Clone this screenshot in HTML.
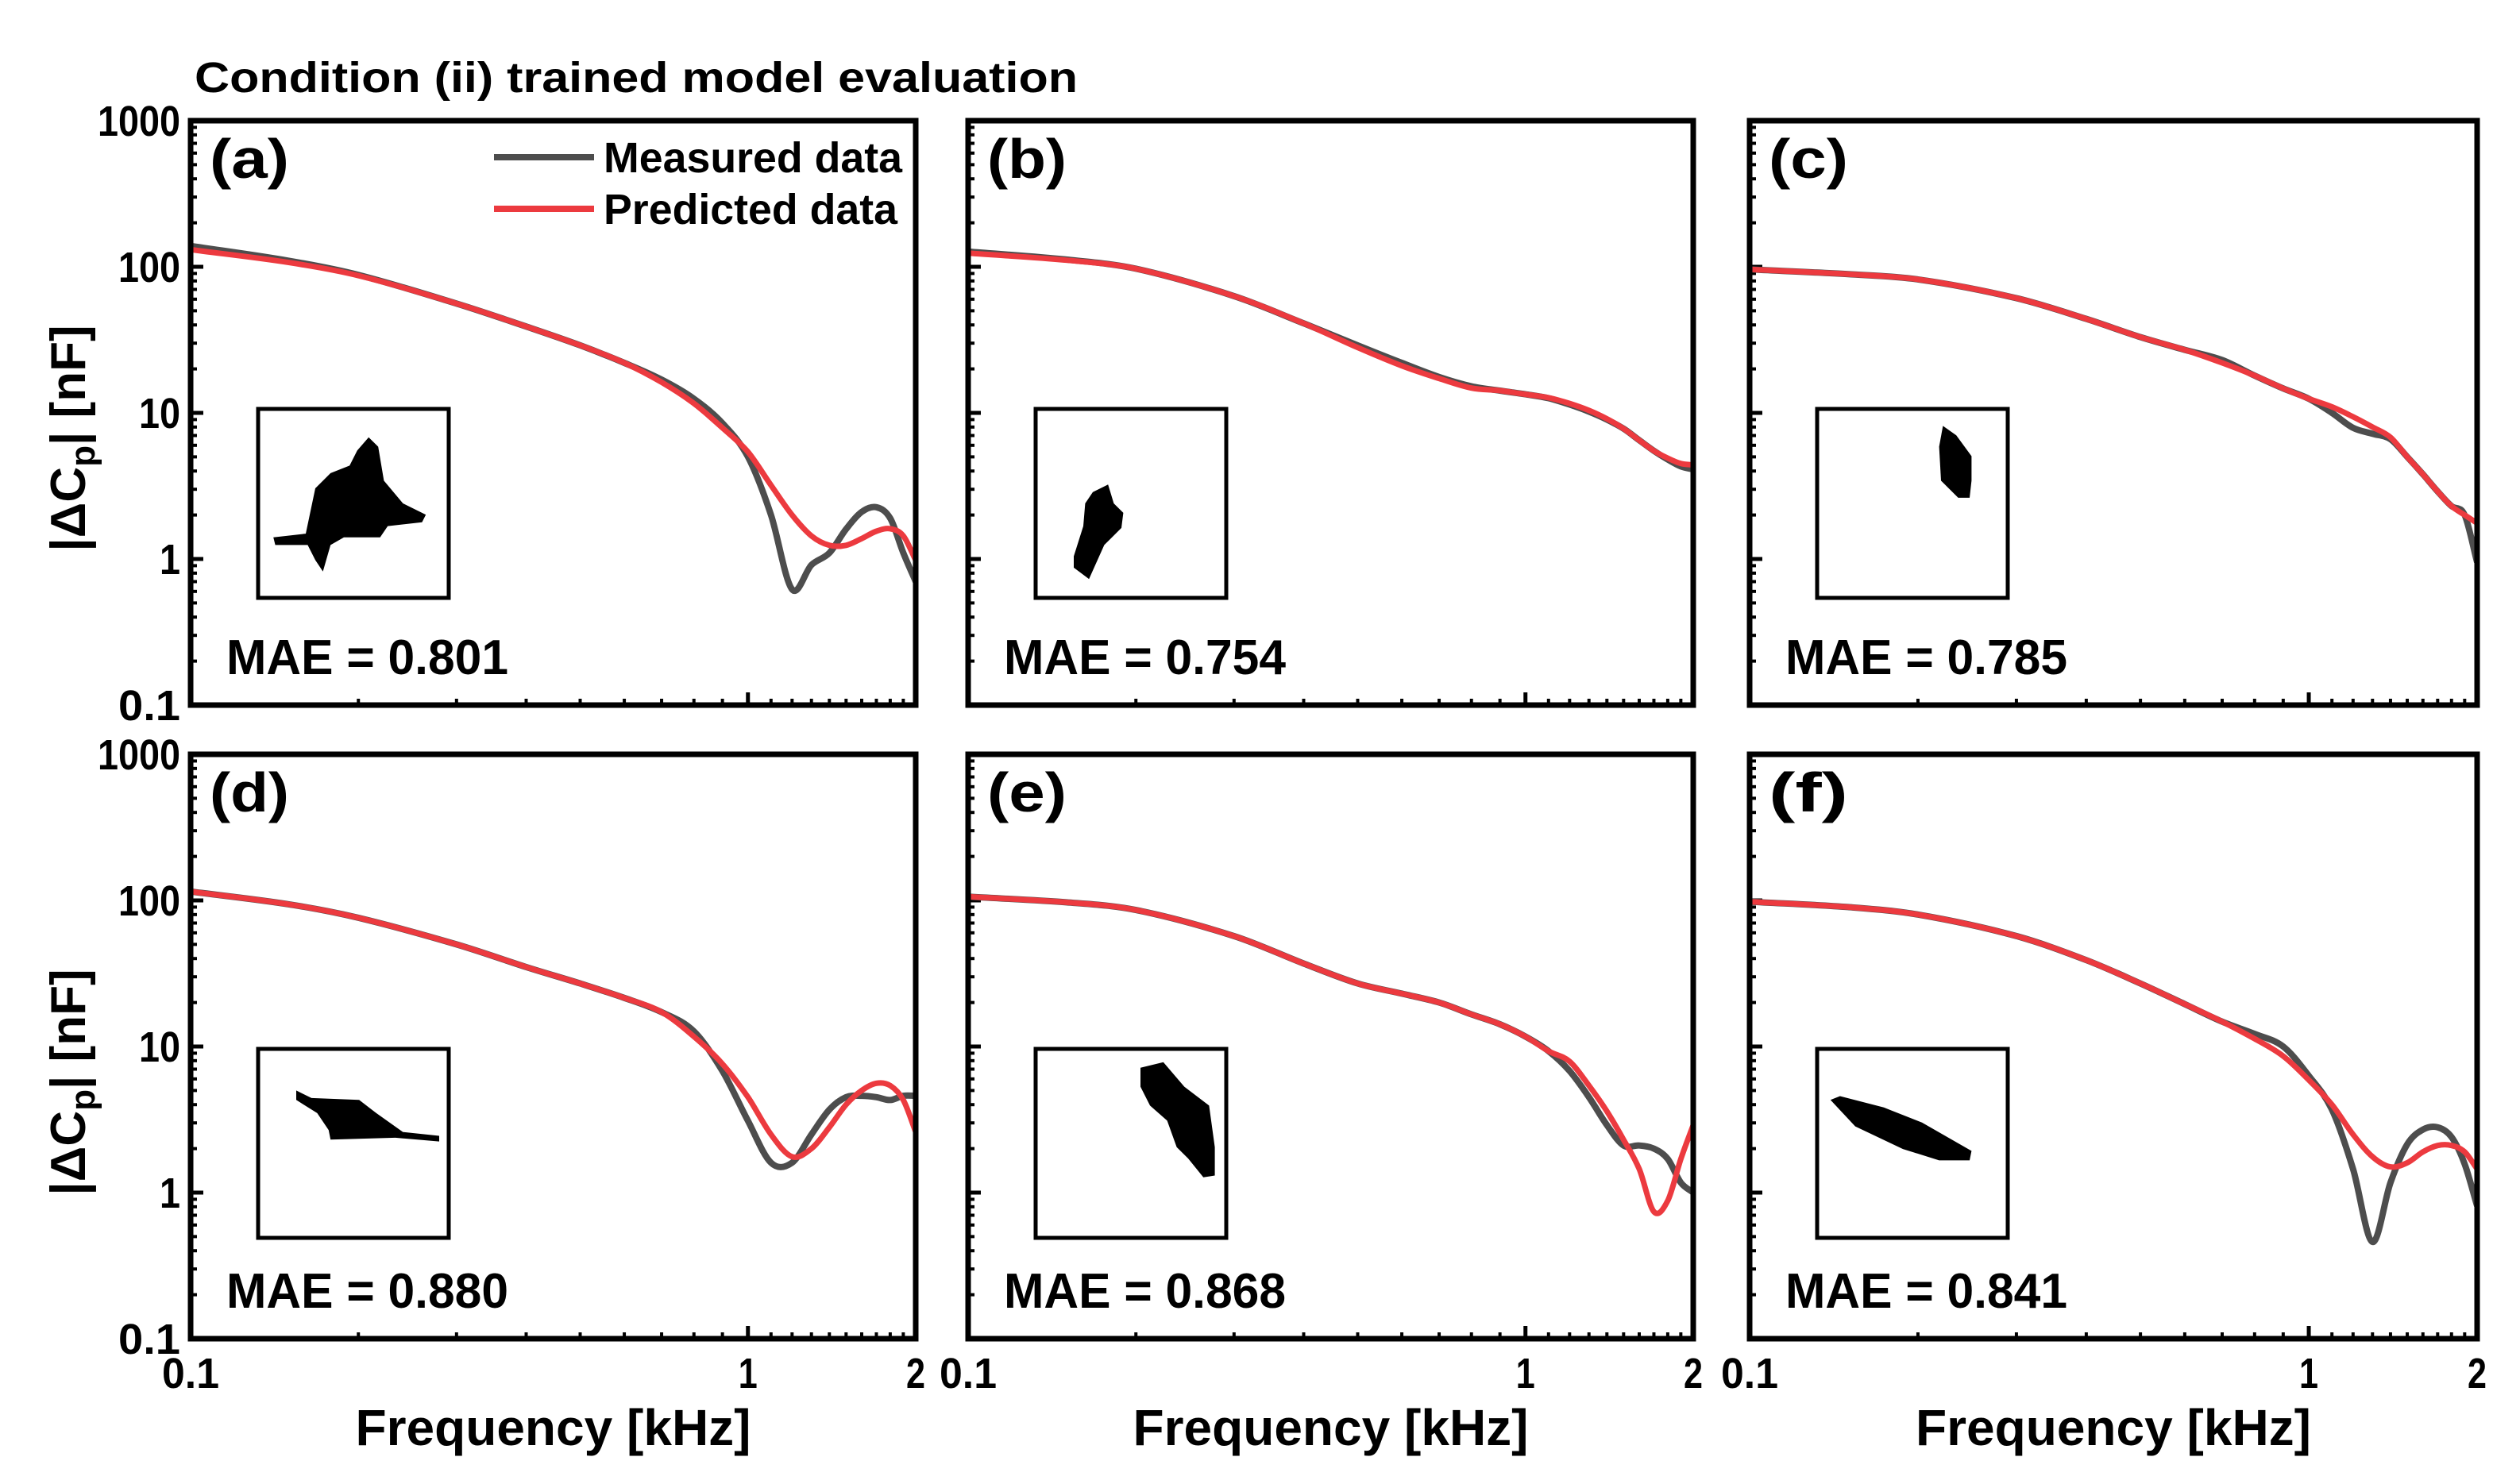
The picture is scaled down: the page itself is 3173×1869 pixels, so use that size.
<!DOCTYPE html>
<html><head><meta charset="utf-8"><style>
html,body{margin:0;padding:0;background:#fff}
svg{display:block}
text{font-family:"Liberation Sans",Arial,sans-serif;font-weight:bold;fill:#000}
</style></head><body>
<svg id="fig" width="3173" height="1869" viewBox="0 0 3173 1869" xmlns="http://www.w3.org/2000/svg">
<text x="245" y="116" font-size="54" textLength="1112" lengthAdjust="spacingAndGlyphs">Condition (ii) trained model evaluation</text>
</svg>
<script>
const freqs=[0.1,0.15,0.2,0.3,0.4,0.5,0.6,0.7,0.8,0.9,1.0,1.1,1.2,1.3,1.4,1.5,1.6,1.7,1.8,1.9,2.0];
const yTickLabels=["1000","100","10","1","0.1"];
const yTickValues=[1000,100,10,1,0.1];
const xTickLabels=["0.1","1","2"];
const xTickValues=[0.1,1,2];
const panelLabels=["(a)","(b)","(c)","(d)","(e)","(f)"];
const maeValues=["0.801","0.754","0.785","0.880","0.868","0.841"];
const measA=[139,110,88,56,39,29,22,16.9,12.5,8.5,5.0,2.0,0.62,0.91,1.1,1.6,2.1,2.26,1.9,1.1,0.7];
const predA=[131,107,87,56,39,29,22,16.2,11.6,7.9,5.4,3.2,2.0,1.44,1.24,1.24,1.38,1.55,1.61,1.44,0.98];
const measB=[127,112,97,63,41,29,22,17.6,15.2,14.2,13.4,12.6,11.4,10.2,9.0,7.8,6.5,5.5,4.8,4.3,4.1];
const predB=[124,111,97,63,41,28,21,17.2,14.8,14.2,13.4,12.7,11.6,10.4,9.1,7.8,6.5,5.5,4.9,4.5,4.4];
const measC=[96,89,82,61,44,33,27,23,18,14.7,12.5,10,7.9,7.2,6.6,5,3.8,2.9,2.3,2.0,0.95];
const predC=[96,89,82,61,44,33,27,22,18,14.7,12.5,11,9.4,8,6.8,5,3.8,2.9,2.3,2.0,1.76];
const measD=[115,94,76,50,35,27,21.5,17.2,12.7,6.8,3.1,1.6,1.6,2.5,3.7,4.5,4.6,4.5,4.3,4.6,4.6];
const predD=[115,94,76,50,35,27,21.5,17.2,11.7,7.6,4.5,2.5,1.76,2.0,2.8,4.0,5.0,5.6,5.4,4.3,2.6];
const measE=[106,97,86,57,37,27,23,20,16.6,14.2,11.7,9.3,6.8,4.5,2.9,2.1,2.1,2.0,1.7,1.17,1.0];
const predE=[106,97,86,57,37,27,23,20,16.6,14.2,11.7,9.3,7.9,5.4,3.6,2.3,1.45,0.74,0.88,1.7,2.9];
const measF=[98,90,80,57,39,27,19.5,14.8,12.2,10,6.3,3.7,1.45,0.46,1.17,2.14,2.7,2.8,2.4,1.57,0.81];
const predF=[98,90,80,57,39,27,19.5,14.8,11.3,8.6,5.9,4.0,2.5,1.76,1.5,1.6,1.9,2.1,2.1,1.9,1.45];
const measured=[measA,measB,measC,measD,measE,measF];
const predicted=[predA,predB,predC,predD,predE,predF];
const shapes=[
 [[0.58,0.15],[0.63,0.2],[0.66,0.38],[0.76,0.5],[0.88,0.56],[0.86,0.6],[0.68,0.62],[0.64,0.68],[0.45,0.68],[0.38,0.72],[0.34,0.86],[0.3,0.8],[0.26,0.72],[0.09,0.72],[0.08,0.68],[0.25,0.66],[0.3,0.42],[0.38,0.34],[0.48,0.3],[0.52,0.22]],
 [[0.2,0.78],[0.25,0.62],[0.26,0.5],[0.3,0.44],[0.38,0.4],[0.41,0.5],[0.46,0.55],[0.45,0.63],[0.36,0.72],[0.28,0.9],[0.2,0.84]],
 [[0.66,0.09],[0.73,0.14],[0.81,0.25],[0.81,0.38],[0.8,0.47],[0.74,0.47],[0.65,0.38],[0.64,0.2]],
 [[0.2,0.22],[0.28,0.26],[0.53,0.27],[0.62,0.34],[0.76,0.44],[0.95,0.46],[0.95,0.49],[0.72,0.47],[0.38,0.48],[0.37,0.43],[0.31,0.34],[0.2,0.27]],
 [[0.55,0.1],[0.67,0.07],[0.78,0.2],[0.91,0.3],[0.94,0.52],[0.94,0.67],[0.88,0.68],[0.8,0.58],[0.74,0.52],[0.69,0.38],[0.6,0.3],[0.55,0.2]],
 [[0.07,0.27],[0.12,0.25],[0.35,0.31],[0.55,0.39],[0.81,0.54],[0.8,0.59],[0.64,0.59],[0.45,0.53],[0.2,0.41]]
];
const NS="http://www.w3.org/2000/svg";
const svg=document.getElementById('fig');
const colX=[240,1219,2203], colW=[913,913,916];
const rowY=[152,950], rowH=736;
function mk(tag,attrs,parent){const e=document.createElementNS(NS,tag);for(const k in attrs)e.setAttribute(k,attrs[k]);(parent||svg).appendChild(e);return e;}
const xMin=Math.log10(0.1), xMax=Math.log10(2);
function smooth(pts){
 const n=pts.length, m=[];
 for(let i=0;i<n;i++){
  if(i===0)m.push((pts[1][1]-pts[0][1])/(pts[1][0]-pts[0][0]));
  else if(i===n-1)m.push((pts[n-1][1]-pts[n-2][1])/(pts[n-1][0]-pts[n-2][0]));
  else m.push((pts[i+1][1]-pts[i-1][1])/(pts[i+1][0]-pts[i-1][0]));
 }
 let d="M"+pts[0][0].toFixed(1)+","+pts[0][1].toFixed(1);
 for(let i=0;i<n-1;i++){const dx=(pts[i+1][0]-pts[i][0])/3;
  d+=" C"+(pts[i][0]+dx).toFixed(1)+","+(pts[i][1]+m[i]*dx).toFixed(1)+" "+(pts[i+1][0]-dx).toFixed(1)+","+(pts[i+1][1]-m[i+1]*dx).toFixed(1)+" "+pts[i+1][0].toFixed(1)+","+pts[i+1][1].toFixed(1);}
 return d;}
for(let p=0;p<6;p++){
 const r=Math.floor(p/3), c=p%3;
 const L=colX[c], T=rowY[r], W=colW[c], H=rowH;
 const xs=v=>L+(Math.log10(v)-xMin)/(xMax-xMin)*W;
 const ys=v=>T+(3-Math.log10(v))/4*H;
 const g=mk('g',{});
 
 
 mk('defs',{},g).innerHTML='<clipPath id="clip'+p+'"><rect x="'+L+'" y="'+T+'" width="'+W+'" height="'+H+'"/></clipPath>';
 for(let d=-1;d<3;d++)for(let mm=2;mm<10;mm++){const y=ys(mm*Math.pow(10,d));mk('line',{x1:L,x2:L+8,y1:y,y2:y,stroke:'#000','stroke-width':4},g);}
 for(const v of yTickValues){const y=ys(v);mk('line',{x1:L,x2:L+16,y1:y,y2:y,stroke:'#000','stroke-width':5},g);}
 for(const v of [0.2,0.3,0.4,0.5,0.6,0.7,0.8,0.9,1.1,1.2,1.3,1.4,1.5,1.6,1.7,1.8,1.9]){const x=xs(v);mk('line',{x1:x,x2:x,y1:T+H,y2:T+H-8,stroke:'#000','stroke-width':4},g);}
 {const x=xs(1);mk('line',{x1:x,x2:x,y1:T+H,y2:T+H-16,stroke:'#000','stroke-width':5},g);}
 const ix=L+85, iy=T+(r===0?363:371);
 const box=mk('rect',{x:ix,y:iy,width:240,height:238,fill:'none',stroke:'#000','stroke-width':5},g);
 
 
 const sh=mk('polygon',{points:shapes[p].map(q=>(ix+q[0]*240).toFixed(1)+','+(iy+q[1]*238).toFixed(1)).join(' '),fill:'#000'},g);
 
 
 const mp=mk('path',{d:smooth(freqs.map((f,i)=>[xs(f),ys(measured[p][i])])),fill:'none',stroke:'#4d4d4d','stroke-width':8,'clip-path':'url(#clip'+p+')','stroke-linejoin':'round'},g);
 
 
 const pp=mk('path',{d:smooth(freqs.map((f,i)=>[xs(f),ys(predicted[p][i])])),fill:'none',stroke:'#ec3a3f','stroke-width':7,'clip-path':'url(#clip'+p+')','stroke-linejoin':'round'},g);
 
 
 const fr=mk('rect',{x:L,y:T,width:W,height:H,fill:'none',stroke:'#000','stroke-width':7},g);
 
 
 const pl=mk('text',{x:L+24,y:T+72,'font-size':70,textLength:100,lengthAdjust:'spacingAndGlyphs'},g);pl.textContent=panelLabels[p];
 
 
 const mae=mk('text',{x:L+45,y:T+697,'font-size':62,textLength:355,lengthAdjust:'spacingAndGlyphs'},g);mae.textContent='MAE = '+maeValues[p];
 
 
 if(c===0){
  yTickValues.forEach((v,i)=>{const t=mk('text',{x:L-13,y:ys(v)+19,'font-size':54,'text-anchor':'end',textLength:yTickLabels[i].length*26,lengthAdjust:'spacingAndGlyphs'},g);t.textContent=yTickLabels[i];
   
   });
  const cy=r===0?552:1363;
  const yt=mk('text',{x:0,y:0,'font-size':62,'text-anchor':'middle',transform:'translate(107,'+cy+') rotate(-90)'},g);
  yt.innerHTML='|ΔC<tspan font-size="44" dy="12">p</tspan><tspan dy="-12">| [nF]</tspan>';
  
  
 }
 if(r===1){
  xTickValues.forEach((v,i)=>{const t=mk('text',{x:xs(v),y:1748,'font-size':54,'text-anchor':'middle',textLength:xTickLabels[i].length*24,lengthAdjust:'spacingAndGlyphs'},g);t.textContent=xTickLabels[i];
   
   });
  const xt=mk('text',{x:L+W/2,y:1820,'font-size':64,'text-anchor':'middle',textLength:498,lengthAdjust:'spacingAndGlyphs'},g);xt.textContent='Frequency [kHz]';
  
  
 }
 if(p===0){
  const lg=mk('g',{},g);
  
  
  mk('line',{x1:622,x2:748,y1:198,y2:198,stroke:'#4d4d4d','stroke-width':8},lg);
  mk('line',{x1:622,x2:748,y1:263,y2:263,stroke:'#ec3a3f','stroke-width':8},lg);
  const t1=mk('text',{x:760,y:217,'font-size':54,textLength:376,lengthAdjust:'spacingAndGlyphs'},lg);t1.textContent='Measured data';
  
  
  const t2=mk('text',{x:760,y:282,'font-size':54,textLength:370,lengthAdjust:'spacingAndGlyphs'},lg);t2.textContent='Predicted data';
  
  
 }
}
</script>
</body></html>
